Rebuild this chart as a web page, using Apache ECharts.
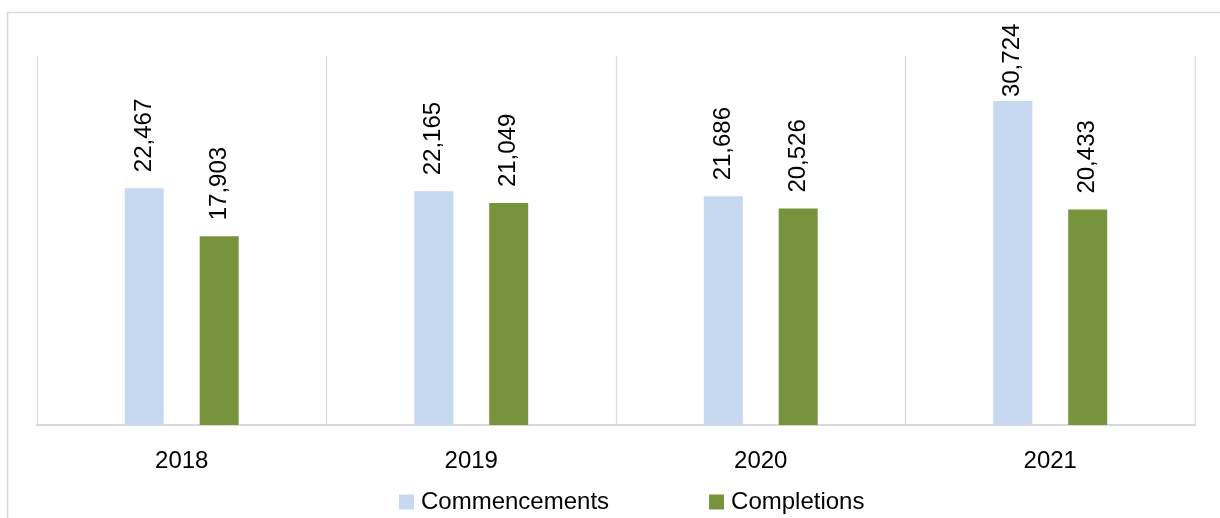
<!DOCTYPE html>
<html>
<head>
<meta charset="utf-8">
<script src="https://cdn.jsdelivr.net/npm/echarts@6/dist/echarts.min.js"></script>
<style>
html,body{margin:0;padding:0;background:#fff;}
#chart{width:1220px;height:518px;}
</style>
</head>
<body>
<div id="chart"></div>
<script>
const categories = ['2018', '2019', '2020', '2021'];
const commencements = [22467, 22165, 21686, 30724];
const completions = [17903, 21049, 20526, 20433];
const seriesNames = ['Commencements', 'Completions'];

const FONT = 'Liberation Sans';
const chart = echarts.init(document.getElementById('chart'), null, {renderer: 'canvas'});

const maxVal = Math.max(...commencements, ...completions);
function toData(arr) {
  return arr.map(v => v === maxVal ? {value: v, label: {distance: 4}} : v);
}

const labelCfg = {
  show: true,
  position: 'top',
  rotate: 90,
  align: 'left',
  verticalAlign: 'middle',
  distance: 16,
  fontFamily: FONT,
  fontSize: 24,
  color: '#000',
  formatter: p => p.value.toLocaleString('en-US')
};

chart.setOption({
  animation: false,
  backgroundColor: '#fff',
  graphic: [{
    type: 'rect',
    shape: {x: 7.5, y: 12.5, width: 1400, height: 700},
    style: {fill: 'none', stroke: '#d9d9d9', lineWidth: 1.5},
    silent: true,
    z: -1
  }],
  grid: {left: 37, right: 25, top: 56, bottom: 93},
  legend: {
    data: seriesNames,
    left: 394,
    top: 485,
    icon: 'rect',
    itemWidth: 15,
    itemHeight: 15,
    itemGap: 100,
    textStyle: {fontFamily: FONT, fontSize: 24, color: '#000', padding: [0, 0, 0, 2]}
  },
  xAxis: {
    type: 'category',
    data: categories,
    axisLine: {show: true, lineStyle: {color: '#d9d9d9', width: 2}},
    axisTick: {show: false},
    splitLine: {show: true, lineStyle: {color: '#d9d9d9', width: 1.2}},
    axisLabel: {fontFamily: FONT, fontSize: 24, color: '#000', margin: 24}
  },
  yAxis: {
    type: 'value',
    min: 0,
    max: 35000,
    show: false,
    splitLine: {show: false}
  },
  series: [
    {
      name: seriesNames[0],
      type: 'bar',
      data: toData(commencements),
      barWidth: 39,
      barGap: '92%',
      itemStyle: {color: '#c6d9f1'},
      label: labelCfg
    },
    {
      name: seriesNames[1],
      type: 'bar',
      data: toData(completions),
      barWidth: 39,
      barGap: '92%',
      itemStyle: {color: '#77933c'},
      label: labelCfg
    }
  ]
});
</script>
</body>
</html>
